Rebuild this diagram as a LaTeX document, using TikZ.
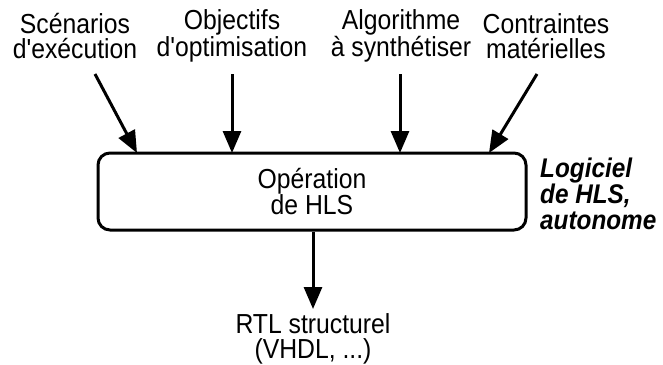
\documentclass[tikz,border=0pt]{standalone}
\usepackage{fontspec}
\setmainfont{Liberation Sans}[Ligatures=TeXOff,FakeStretch=0.9]
\usetikzlibrary{arrows.meta}
\begin{document}
\begin{tikzpicture}[x=1pt,y=-1pt,
  lbl/.style={align=center,inner sep=0pt,font=\fontsize{27.5}{25.5}\selectfont},
  side/.style={align=left,inner sep=0pt,font=\fontsize{27}{26}\selectfont\bfseries\itshape},
  proc/.style={draw,line width=3pt,rounded corners=12pt,minimum width=428pt,minimum height=77pt,inner sep=0pt,align=center,font=\fontsize{27.5}{25.5}\selectfont},
  arr/.style={line width=3pt,-{Triangle[length=22pt,width=18pt]}}]
\useasboundingbox (0,0) rectangle (663,364);
\node[lbl] (l1) at (75,36) {Scénarios\\d'exécution};
\node[lbl] (l2) at (232,36) {Objectifs\\d'optimisation};
\node[lbl] (l3) at (401,36) {Algorithme\\à synthétiser};
\node[lbl] (l4) at (546,36) {Contraintes\\matérielles};
\node[proc] (box) at (312,191.5) {Opération\\de HLS};
\node[side,anchor=west] (sw) at (540,194) {Logiciel\\de HLS,\\autonome};
\node[lbl] (out) at (313,339) {RTL structurel\\(VHDL, ...)};
\coordinate (s1) at (95,74);
\coordinate (s2) at (232,74);
\coordinate (s3) at (400,74);
\coordinate (s4) at (537,74);
\coordinate (t1) at (137,153);
\coordinate (t2) at (232,153);
\coordinate (t3) at (400,153);
\coordinate (t4) at (489,153);
\coordinate (to) at (313,309);
\draw[arr] (s1) -- (t1);
\draw[arr] (s2) -- (t2);
\draw[arr] (s3) -- (t3);
\draw[arr] (s4) -- (t4);
\draw[arr] (box.south -| to) -- (to);
\end{tikzpicture}
\end{document}
